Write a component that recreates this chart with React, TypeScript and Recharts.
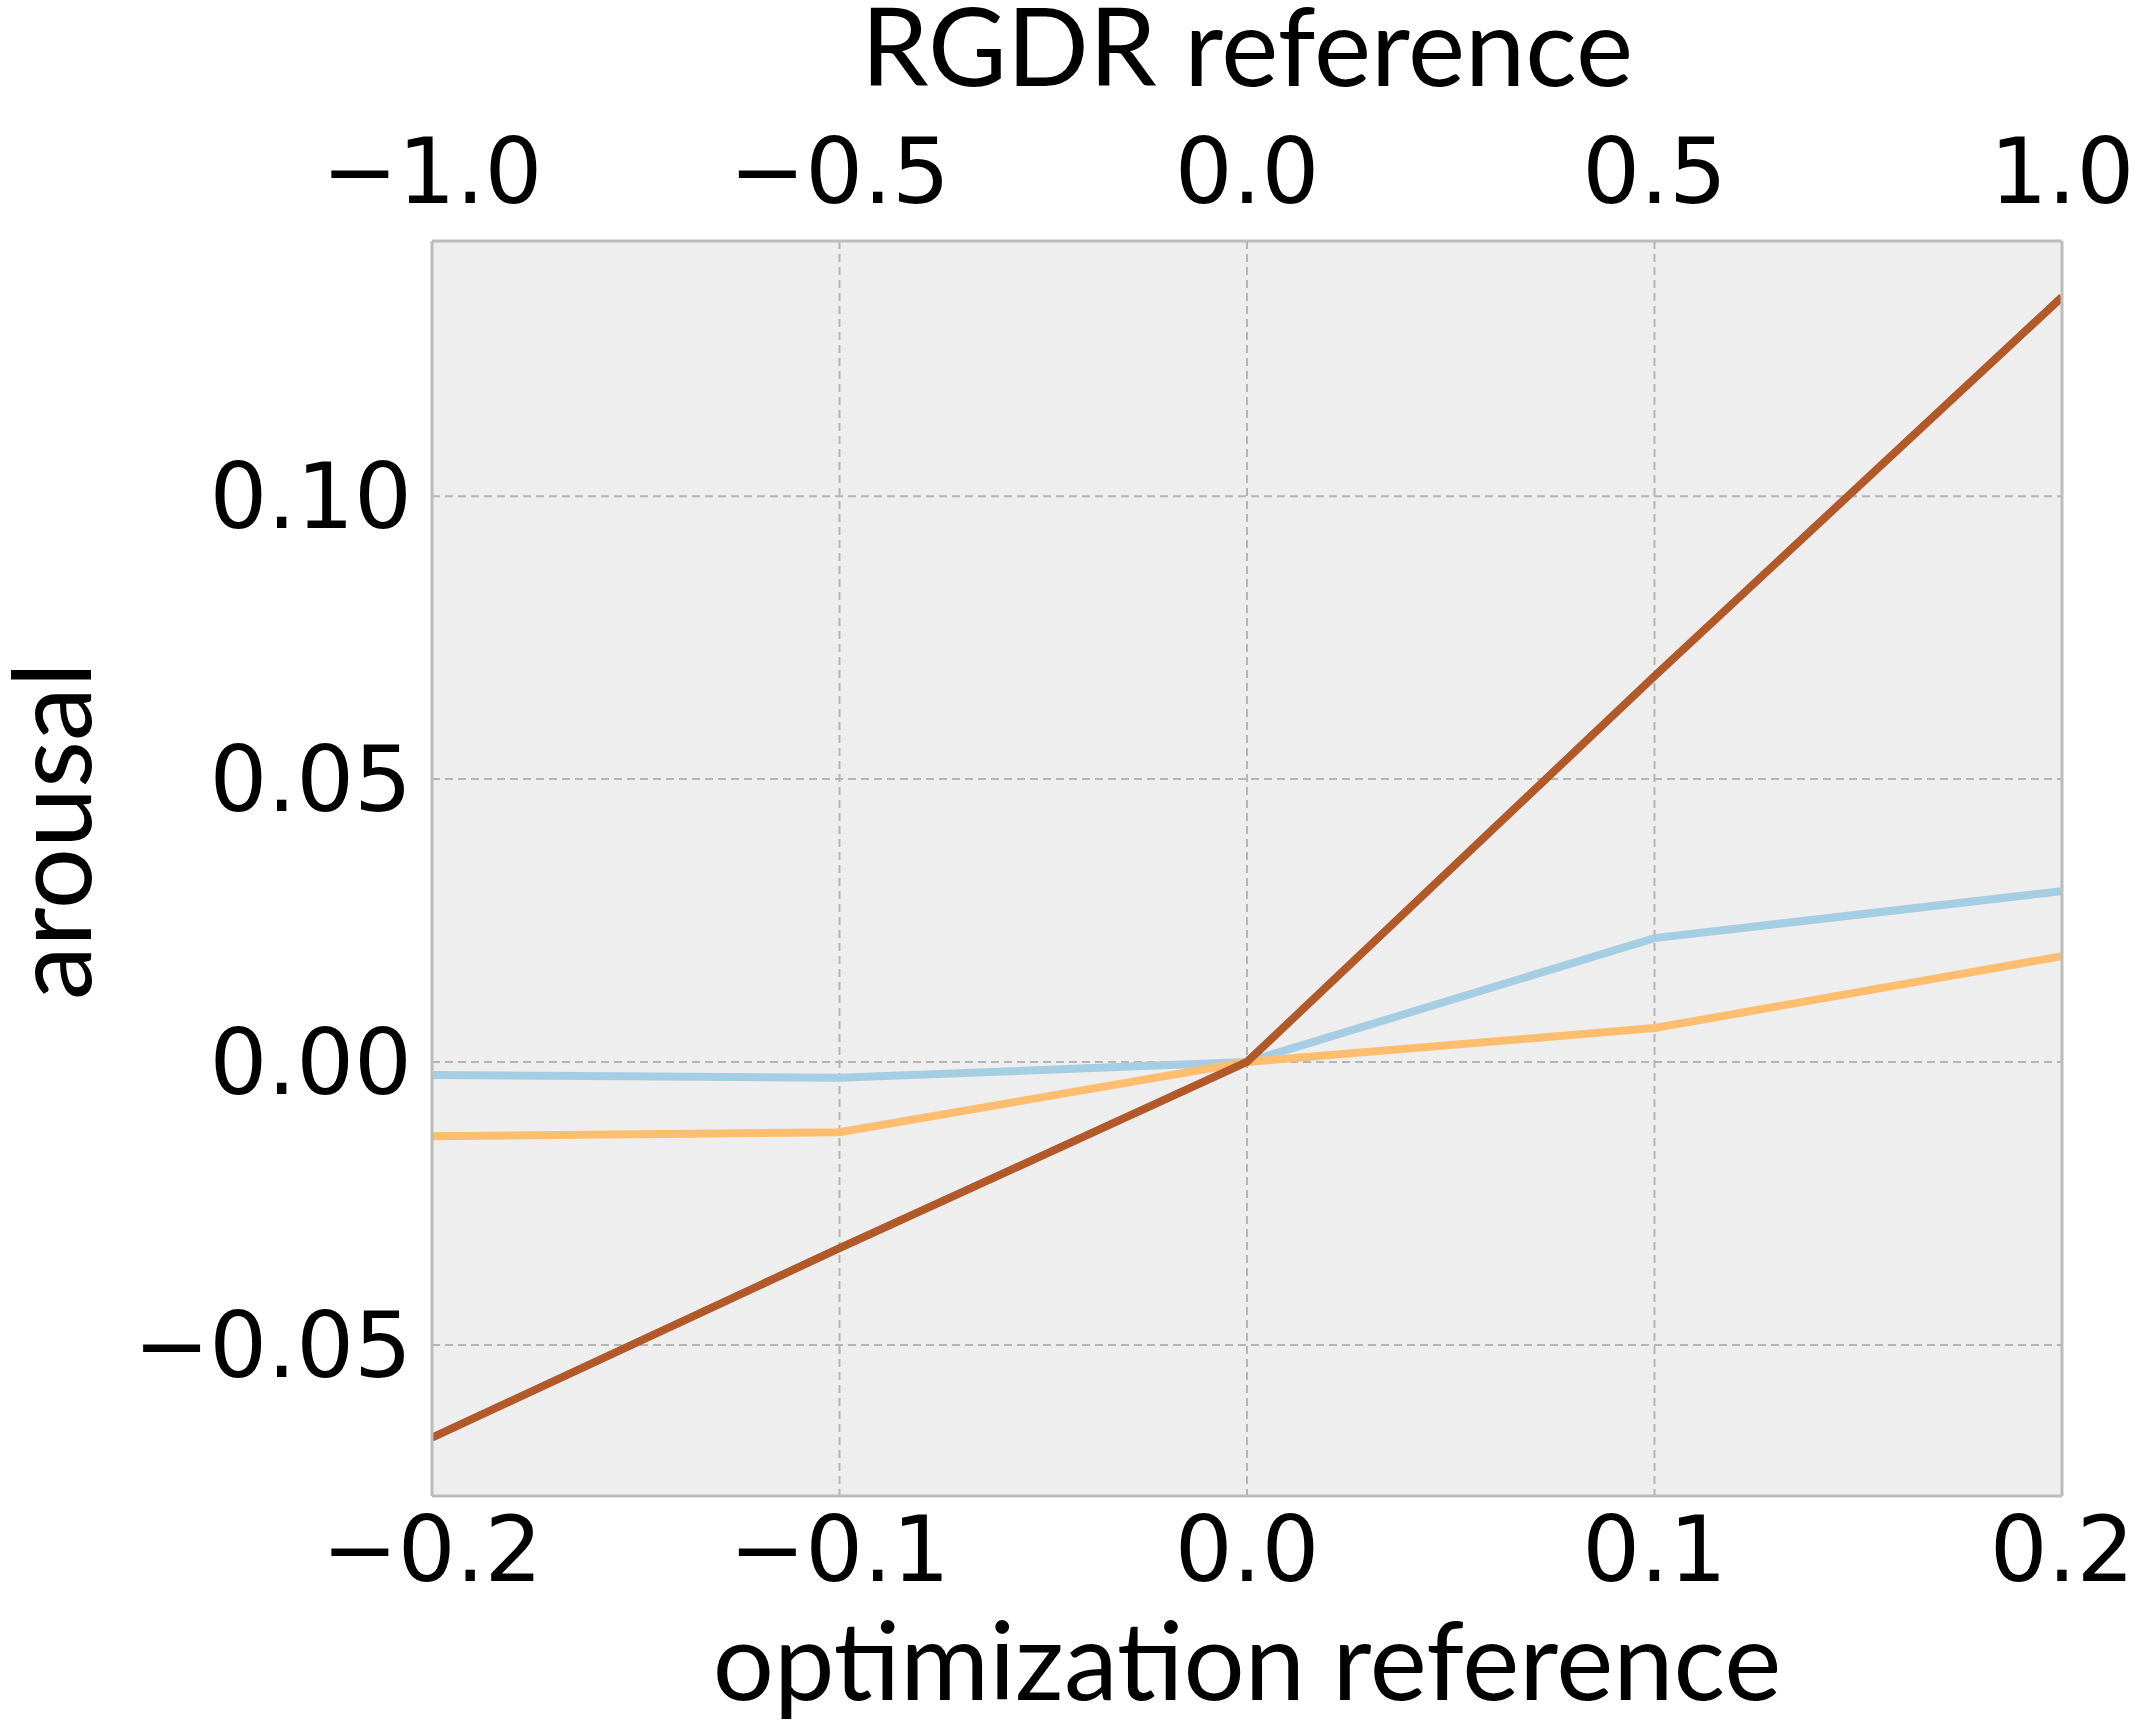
import { LineChart, Line, XAxis, YAxis, CartesianGrid, Label } from "recharts";

const optX = [-0.2, -0.1, 0, 0.1, 0.2];
const rgdrX = [-1, -0.5, 0, 0.5, 1];
const blueSeries = [-0.0023, -0.0028, 0, 0.0219, 0.0302];
const orangeSeries = [-0.0131, -0.0124, 0, 0.006, 0.0187];
const brownSeries = [-0.0664, -0.0329, 0, 0.0682, 0.1352];

const bottomTicks = [-0.2, -0.1, 0, 0.1, 0.2];
const topTicks = [-1, -0.5, 0, 0.5, 1];
const yTicks = [-0.05, 0, 0.05, 0.1];
const yDomain = [-0.0767, 0.1451];

const data = optX.map((x, i) => ({
  x,
  rgdr: rgdrX[i],
  blue: blueSeries[i],
  orange: orangeSeries[i],
  brown: brownSeries[i],
}));

const minus = (s: string) => s.replace("-", "\u2212");
const fmt1 = (v: number) => minus(v.toFixed(1));
const fmt2 = (v: number) => minus(v.toFixed(2));

const tickStyle = { fill: "#000", fontSize: 91, fontFamily: "DejaVu Sans" };
const labelFont = "Lato";
const labelSize = 108;
const border = { stroke: "#bcbcbc", strokeWidth: 3 };

const App = () => {
  return (
    <div style={{ position: "absolute", left: 0, top: 0 }}>
      <LineChart
        width={2136}
        height={1726}
        data={data}
        margin={{ top: 0, right: 73, bottom: 0, left: 0 }}
      >
        <CartesianGrid
          fill="#eeeeee"
          stroke="#b4b4b4"
          strokeWidth={2}
          strokeDasharray="8 5"
        />
        <XAxis
          dataKey="x"
          type="number"
          domain={[-0.2, 0.2]}
          ticks={bottomTicks}
          allowDataOverflow
          height={230}
          tickSize={0}
          tickMargin={20}
          tickFormatter={fmt1}
          tick={tickStyle}
          axisLine={border}
        >
          <Label
            content={({ viewBox }: any) => (
              <text
                x={viewBox.x + viewBox.width / 2}
                y={1700}
                textAnchor="middle"
                fontFamily={labelFont}
                fontSize={labelSize}
                fill="#000"
              >
                optimization reference
              </text>
            )}
          />
        </XAxis>
        <XAxis
          xAxisId="top"
          dataKey="rgdr"
          orientation="top"
          type="number"
          domain={[-1, 1]}
          ticks={topTicks}
          allowDataOverflow
          height={241}
          tickSize={0}
          tickMargin={38}
          tickFormatter={fmt1}
          tick={tickStyle}
          axisLine={border}
        >
          <Label
            content={({ viewBox }: any) => (
              <text
                x={viewBox.x + viewBox.width / 2}
                y={86}
                textAnchor="middle"
                fontFamily={labelFont}
                fontSize={labelSize}
                fill="#000"
              >
                RGDR reference
              </text>
            )}
          />
        </XAxis>
        <YAxis
          type="number"
          domain={yDomain}
          ticks={yTicks}
          allowDataOverflow
          width={432}
          tickSize={0}
          tickMargin={20}
          tickFormatter={fmt2}
          tick={tickStyle}
          axisLine={border}
        >
          <Label
            content={() => (
              <text
                x={91}
                y={831}
                transform="rotate(-90 91 831)"
                textAnchor="middle"
                fontFamily={labelFont}
                fontSize={labelSize}
                fill="#000"
              >
                arousal
              </text>
            )}
          />
        </YAxis>
        <YAxis
          yAxisId="right"
          orientation="right"
          type="number"
          domain={yDomain}
          width={1}
          tick={false}
          tickSize={0}
          axisLine={border}
        />
        <Line
          type="linear"
          dataKey="blue"
          stroke="#a6cee3"
          strokeWidth={8}
          dot={false}
          isAnimationActive={false}
        />
        <Line
          type="linear"
          dataKey="orange"
          stroke="#fdbf6f"
          strokeWidth={8}
          dot={false}
          isAnimationActive={false}
        />
        <Line
          type="linear"
          dataKey="brown"
          stroke="#b15928"
          strokeWidth={8}
          dot={false}
          isAnimationActive={false}
        />
      </LineChart>
    </div>
  );
};

export default App;
